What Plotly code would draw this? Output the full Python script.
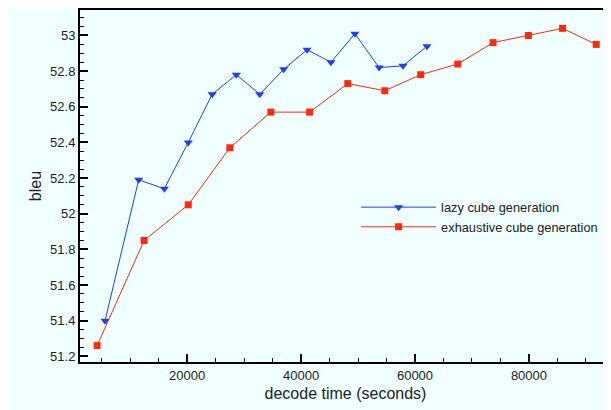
import plotly.graph_objects as go

lazy_time = [5600, 11500, 16000, 20200, 24400, 28650, 32750, 36950, 41050, 45250, 49450, 53700, 57900, 62100]
lazy_bleu = [51.40, 52.19, 52.14, 52.40, 52.67, 52.78, 52.67, 52.81, 52.92, 52.85, 53.01, 52.82, 52.83, 52.94]

exh_time = [4200, 12450, 20200, 27500, 34700, 41500, 48200, 54700, 61000, 67500, 73700, 79900, 85900, 91800]
exh_bleu = [51.26, 51.85, 52.05, 52.37, 52.57, 52.57, 52.73, 52.69, 52.78, 52.84, 52.96, 53.00, 53.04, 52.95]

x_ticks = [20000, 40000, 60000, 80000]
x_labels = ["20000", "40000", "60000", "80000"]
y_ticks = [51.2, 51.4, 51.6, 51.8, 52, 52.2, 52.4, 52.6, 52.8, 53]
y_labels = ["51.2", "51.4", "51.6", "51.8", "52", "52.2", "52.4", "52.6", "52.8", "53"]

BLUE = "#1f3cff"
RED = "#ff2a0a"
BG = "#f0ffff"
FONT = "Liberation Sans, Arial, sans-serif"

fig = go.Figure()
fig.add_trace(go.Scatter(
    x=lazy_time, y=lazy_bleu, mode="lines+markers", name="lazy cube generation",
    line=dict(color=BLUE, width=1),
    marker=dict(symbol="triangle-down", size=8, color=BLUE),
))
fig.add_trace(go.Scatter(
    x=exh_time, y=exh_bleu, mode="lines+markers", name="exhaustive cube generation",
    line=dict(color=RED, width=1),
    marker=dict(symbol="square", size=7, color=RED),
))

fig.update_layout(
    width=611, height=410,
    margin=dict(l=72, r=8, t=2, b=56, autoexpand=False),
    paper_bgcolor=BG, plot_bgcolor=BG,
    font=dict(family=FONT, size=13, color="#222"),
    showlegend=True,
    legend=dict(
        x=0.520, y=0.482, xanchor="left", yanchor="top",
        bgcolor="rgba(0,0,0,0)", font=dict(size=12.8, color="#222"),
        itemwidth=75, tracegroupgap=0,
    ),
)

fig.update_xaxes(
    range=[1200, 94400], tickvals=x_ticks, ticktext=x_labels, ticks="inside", ticklen=8, tickwidth=2,
    tickcolor="black", showline=True, linecolor="black", linewidth=2, mirror=True,
    showgrid=False, zeroline=False, automargin=False,
    minor=dict(dtick=5000, ticks="inside", ticklen=4, tickcolor="black", tickwidth=1),
    title=dict(text="decode time (seconds)", font=dict(size=16, color="#222"), standoff=6),
    tickfont=dict(size=13, color="#222"),
)
fig.update_yaxes(
    range=[51.168, 53.143], tickvals=y_ticks, ticktext=y_labels,
    ticks="inside", ticklen=8, tickwidth=2,
    tickcolor="black", showline=True, linecolor="black", linewidth=2,
    showgrid=False, zeroline=False, automargin=False,
    minor=dict(dtick=0.05, tick0=51.2, ticks="inside", ticklen=4, tickcolor="black", tickwidth=1),
    title=dict(text="bleu", font=dict(size=16, color="#222"), standoff=4),
    tickfont=dict(size=13, color="#222"),
)

fig.write_html("out.html")
